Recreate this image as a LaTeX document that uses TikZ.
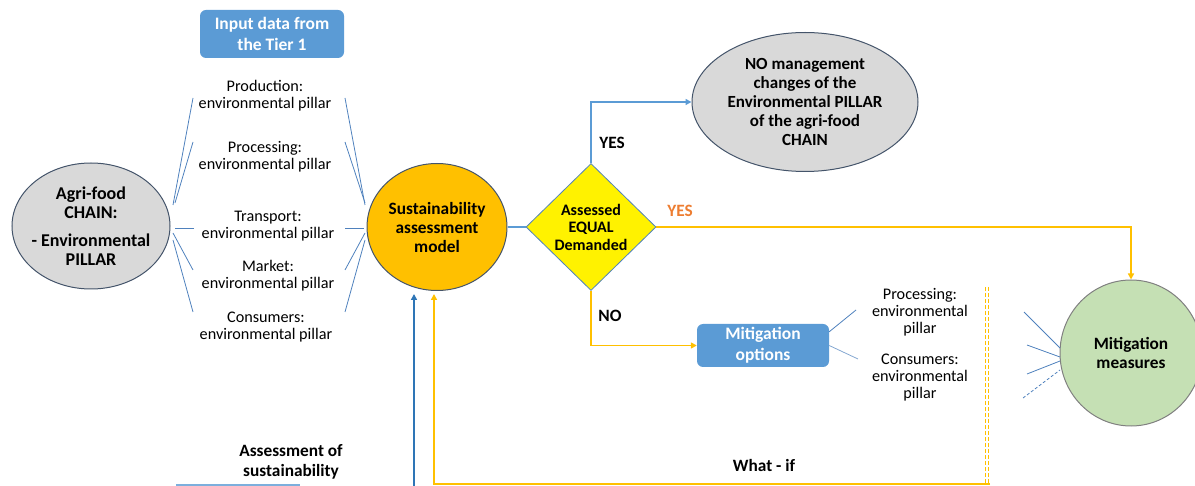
\documentclass[tikz,border=0pt]{standalone}
\usepackage{fontspec}
\setmainfont{Carlito}
\usetikzlibrary{shapes.geometric,arrows.meta}
\definecolor{bluebox}{HTML}{5B9BD5}
\definecolor{gold}{HTML}{FFC000}
\definecolor{orangetxt}{HTML}{ED7D31}
\definecolor{thinblue}{HTML}{4F81BD}
\definecolor{darkblue}{HTML}{2E75B6}
\definecolor{grayfill}{HTML}{D9D9D9}
\definecolor{greenfill}{HTML}{C5E0B4}
\definecolor{edgegray}{HTML}{44546A}
\begin{document}
\begin{tikzpicture}[x=1pt,y=-1pt,
  ell/.style={ellipse, draw=edgegray, line width=1pt, inner sep=0pt},
  elltxt/.style={align=center, inner sep=0pt, font=\bfseries\fontsize{17.3}{19}\selectfont},
  plain/.style={align=center, inner sep=0pt, font=\fontsize{16.2}{17}\selectfont},
  boldlbl/.style={align=center, inner sep=0pt, font=\bfseries\fontsize{17.3}{20}\selectfont},
  rbox/.style={rounded corners=6pt, fill=bluebox, text=white, align=center, inner sep=0pt,
    font=\bfseries\fontsize{17.5}{21}\selectfont},
  pl/.style={thinblue, line width=0.8pt},
  arr/.style={-{Triangle[length=6pt,width=6pt]}},
  conb/.style={bluebox, line width=1.6pt},
  cono/.style={gold, line width=1.6pt}]
\useasboundingbox (0,0) rectangle (1195,486);

% nodes
\node[rbox, minimum width=144pt, minimum height=48pt] (input) at (272,34) {Input data from\\the Tier 1};

\node[ell, fill=grayfill, minimum width=158pt, minimum height=126pt] (agri) at (91,226) {};
\node[elltxt, font=\bfseries\fontsize{18}{19}\selectfont] (agritxt) at (agri.center)
  {Agri-food\\CHAIN:\\[9pt]- Environmental\\PILLAR};

\node[ell, fill=gold, minimum width=140pt, minimum height=127pt] (sam) at (437,227) {};
\node[elltxt] (samtxt) at (sam.center) {Sustainability\\assessment\\model};

\node[diamond, fill=yellow, draw=thinblue, line width=0.8pt, minimum width=130pt, minimum height=127pt,
  inner sep=0pt] (dec) at (591,227) {};
\node[elltxt, font=\bfseries\fontsize{16}{17.5}\selectfont] (dectxt) at (dec.center)
  {Assessed\\EQUAL\\Demanded};

\node[ell, fill=grayfill, minimum width=226pt, minimum height=139pt] (nomg) at (805,102) {};
\node[elltxt, font=\bfseries\fontsize{17}{19}\selectfont] (nomgtxt) at (nomg.center)
  {NO management\\changes of the\\Environmental PILLAR\\of the agri-food\\CHAIN};

\node[ell, fill=greenfill, draw=gray, minimum width=142pt, minimum height=146pt] (mm) at (1131,353) {};
\node[elltxt] (mmtxt) at (mm.center) {Mitigation\\measures};

\node[rbox, minimum width=132pt, minimum height=43pt] (mopt) at (763,345.5) {Mitigation\\options};

\node[plain] (prod) at (265,96) {Production:\\environmental pillar};
\node[plain] (proc) at (265,157) {Processing:\\environmental pillar};
\node[plain] (trans) at (268,226) {Transport:\\environmental pillar};
\node[plain] (market) at (268,276) {Market:\\environmental pillar};
\node[plain] (cons) at (266,327) {Consumers:\\environmental pillar};
\node[plain] (mproc) at (920,312) {Processing:\\environmental\\pillar};
\node[plain] (mcons) at (920,378) {Consumers:\\environmental\\pillar};

\node[boldlbl] (assess) at (291,462) {Assessment of\\sustainability};
\node[boldlbl] (whatif) at (764,465) {What - if};
\node[boldlbl] (yes1) at (612,143) {YES};
\node[boldlbl, text=orangetxt] (yes2) at (680,211) {YES};
\node[boldlbl] (no) at (610,316) {NO};

% main connectors
\draw[conb, arr] (dec.north) |- (nomg.west);
\draw[cono, arr] (dec.east) -| (mm.north);
\draw[cono, arr] (dec.south) |- (mopt.west);
\draw[conb] (sam.east) -- (dec.west);

% feedback arrows
\coordinate (bb) at (414,487);
\coordinate (bt) at (414,294);
\draw[darkblue, line width=1.8pt, arr] (bb) -- (bt);
\coordinate (ot) at (434,294);
\coordinate (oc) at (434,484);
\coordinate (or) at (990,484);
\draw[cono, arr] (or) -- (oc) -- (ot);
\coordinate (dt1) at (985.5,287);
\coordinate (db1) at (985.5,484);
\coordinate (dt2) at (988.5,287);
\coordinate (db2) at (988.5,484);
\draw[gold, line width=1pt, dash pattern=on 4pt off 2pt] (dt1) -- (db1);
\draw[gold, line width=1pt, dash pattern=on 4pt off 2pt] (dt2) -- (db2);
\coordinate (al) at (176,485);
\coordinate (ar) at (300,485);
\draw[bluebox!80, line width=1.5pt] (al) -- (ar);

% left pillar lines
\coordinate (l1a) at (193,98);  \coordinate (l1b) at (173,205);
\coordinate (l2a) at (193,142); \coordinate (l2b) at (175,203);
\coordinate (l3a) at (194,228); \coordinate (l3b) at (175,228);
\coordinate (l4a) at (193,270); \coordinate (l4b) at (173,233);
\coordinate (l5a) at (193,312); \coordinate (l5b) at (173,240);
\foreach \n in {1,...,5} \draw[pl] (l\n a) -- (l\n b);
% right pillar lines
\coordinate (r1a) at (345,98);  \coordinate (r1b) at (365,205);
\coordinate (r2a) at (345,142); \coordinate (r2b) at (365,203);
\coordinate (r3a) at (345,228); \coordinate (r3b) at (364,228);
\coordinate (r4a) at (345,270); \coordinate (r4b) at (365,233);
\coordinate (r5a) at (345,312); \coordinate (r5b) at (365,240);
\foreach \n in {1,...,5} \draw[pl] (r\n a) -- (r\n b);

% mitigation options lines
\coordinate (m1) at (856,310);
\coordinate (m2) at (858,359);
\draw[pl] (mopt.north east) ++(0,8) -- (m1);
\draw[thinblue!70, line width=0.8pt] (mopt.east) -- (m2);

% lines into mitigation measures
\coordinate (g1a) at (1024,312); \coordinate (g1b) at (1060,348);
\coordinate (g2a) at (1027,345); \coordinate (g2b) at (1060,357);
\coordinate (g3a) at (1027,374); \coordinate (g3b) at (1060,361);
\coordinate (g4a) at (1023,398); \coordinate (g4b) at (1060,370);
\draw[pl] (g1a) -- (g1b);
\draw[pl] (g2a) -- (g2b);
\draw[pl] (g3a) -- (g3b);
\draw[pl, densely dashed] (g4a) -- (g4b);
\end{tikzpicture}
\end{document}
